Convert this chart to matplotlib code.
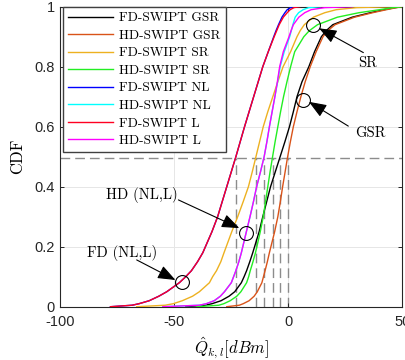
import matplotlib
matplotlib.use("Agg")
import matplotlib.pyplot as plt

plt.rcParams['mathtext.fontset'] = 'cm'

# CDF levels at which the x-values of each curve were read
cdf_levels = [0, 0.005, 0.01, 0.02, 0.035, 0.05, 0.08, 0.1, 0.12, 0.15, 0.18,
              0.25, 0.3, 0.35, 0.4, 0.45, 0.5, 0.55, 0.6, 0.65, 0.7, 0.75,
              0.8, 0.85, 0.9, 0.92, 0.94, 0.965, 0.98, 0.99, 0.997, 1.0]

fd_gsr = [-45, -36.5, -33.5, -29.5, -26, -23.5, -20.6, -19.4, -18.3, -16.9, -15.6,
          -12.8, -11.2, -9.5, -7.8, -5.7, -3.6, -1.5, 0.5, 2.2, 3.8, 6.0,
          9.0, 11.5, 14.5, 16.6, 19.5, 28, 36, 42, 47, 50]
hd_gsr = [-27, -21.5, -19.8, -17.2, -15.0, -13.6, -11.6, -10.9, -10.2, -9.2, -8.3,
          -6.0, -4.6, -3.5, -2.5, -1.4, -0.3, 0.9, 2.2, 3.8, 5.5, 7.4,
          9.6, 12.2, 15.2, 17.3, 20.5, 29, 37, 43, 47.5, 50]
fd_sr = [-66.5, -54, -50.5, -46.5, -42, -39, -34.6, -33.2, -31.5, -29.6, -28.2,
         -24.8, -22.2, -19.8, -17.5, -15.8, -14.2, -12.6, -11, -9, -6.8, -4.6,
         -2.3, 1.0, 3.8, 5.2, 7, 11, 16, 21, 30, 46]
hd_sr = [-40, -30.5, -28.3, -25.5, -22.6, -20.8, -18.3, -17.4, -16.7, -15.5, -14.4,
         -12.3, -11, -10, -9, -8, -6.9, -5.8, -4.6, -3.4, -2.1, -0.6,
         1.0, 2.8, 6.8, 9.2, 12.8, 21.5, 31, 40, 46, 50]
fd_nl = [-78, -68.5, -65.5, -61, -56.8, -53.3, -47.8, -45, -42.5, -39.8, -37.5,
         -33.5, -31, -29, -27, -25, -23, -21.1, -19.2, -17.2, -15.2, -13.2,
         -11.2, -8.8, -6.4, -5.4, -4.3, -2.8, -1.5, -0.5, 1, 3]
hd_nl = [-55, -39, -36, -32.5, -29.8, -28, -25, -24, -23, -21.7, -20.6,
         -18.4, -16.8, -15.3, -13.9, -12.2, -10.6, -9.4, -8.3, -7.1, -5.9, -4.7,
         -3.6, -1.8, 0.6, 1.3, 2.0, 3.0, 4.5, 6.5, 9, 14]
fd_l = [-78, -68.5, -65.5, -61, -56.8, -53.3, -47.8, -45, -42.5, -39.8, -37.5,
        -33.5, -31, -29, -27, -25, -23, -21.1, -19.2, -17.2, -15.2, -13.2,
        -11.2, -8.8, -6.2, -5.1, -4.0, -2.2, -0.5, 0.8, 2.5, 5]
hd_l = [-55, -39, -36, -32.5, -29.8, -28, -25, -24, -23, -21.7, -20.6,
        -18.4, -16.8, -15.3, -13.9, -12.2, -10.6, -9.4, -8.3, -7.1, -5.9, -4.8,
        -3.8, -2.2, 0.3, 1.2, 2.2, 4.6, 7.2, 10, 16, 28]

labels = ['FD-SWIPT GSR', 'HD-SWIPT GSR', 'FD-SWIPT SR', 'HD-SWIPT SR',
          'FD-SWIPT NL', 'HD-SWIPT NL', 'FD-SWIPT L', 'HD-SWIPT L']
colors = ['#000000', '#D95319', '#EDB120', '#22EE22',
          '#0000FF', '#00FFFF', '#FF0022', '#FF00FF']
series = [fd_gsr, hd_gsr, fd_sr, hd_sr, fd_nl, hd_nl, fd_l, hd_l]

median_level = 0.495
median_x = [-23, -14.2, -10.6, -6.9, -3.6, -0.3]

# annotations: (text, text_xy, arrow_tail, arrow_tip, circle_center)
annots = [
    ('FD (NL,L)', (-72.8, 0.178), (-66.5, 0.156), (-49.5, 0.089), (-46.8, 0.083)),
    ('HD (NL,L)', (-64.3, 0.372), (-48.2, 0.356), (-21.5, 0.262), (-18.7, 0.247)),
    ('GSR', (36.1, 0.578), (26.3, 0.602), (9.0, 0.683), (6.3, 0.689)),
    ('SR', (34.7, 0.811), (32.9, 0.847), (13.5, 0.928), (10.7, 0.94)),
]

fig = plt.figure(figsize=(4.06, 3.6), dpi=100)
ax = fig.add_axes([0.1485, 0.148, 0.8425, 0.8334])

grid_c = '#e6e6e6'
for xv in [-50, 0]:
    ax.axvline(xv, color=grid_c, lw=0.7, zorder=0)
for yv in [0.2, 0.4, 0.6, 0.8]:
    ax.axhline(yv, color=grid_c, lw=0.7, zorder=0)

dash_c = '#8c8c8c'
ax.plot([-100, 50], [median_level, median_level], color=dash_c, lw=1.0,
        dashes=(7, 3.6), zorder=1)
for mx in median_x:
    ax.plot([mx, mx], [0, median_level], color=dash_c, lw=1.0,
            dashes=(7, 3.6), zorder=1)

for xs, c, lab in zip(series, colors, labels):
    ax.plot(xs, cdf_levels, color=c, lw=1.0, label=lab, zorder=3)

for txt, txy, tail, tip, cen in annots:
    ax.plot([cen[0]], [cen[1]], marker='o', ms=10, mfc='none', mec='black',
            mew=0.8, zorder=5)
    ax.annotate('', xy=tip, xytext=tail,
                arrowprops=dict(arrowstyle='-|>,head_length=0.9,head_width=0.35',
                                color='black', lw=0.8, shrinkA=0, shrinkB=0,
                                mutation_scale=12), zorder=6)
    ax.text(txy[0], txy[1], txt, family='cmr10', fontsize=10.5,
            ha='center', va='center', zorder=6)

ax.set_xlim(-100, 50)
ax.set_ylim(0, 1)
ax.set_xticks([-100, -50, 0, 50])
ax.set_xticklabels(['-100', '-50', '0', '50'])
ax.set_yticks([0, 0.2, 0.4, 0.6, 0.8, 1])
ax.set_yticklabels(['0', '0.2', '0.4', '0.6', '0.8', '1'])
ax.tick_params(direction='in', length=3, width=0.7, top=True, right=True,
               labelsize=10.5, colors='#262626')
ax.tick_params(axis='x', pad=6)
ax.tick_params(axis='y', pad=4)
for lab in ax.get_xticklabels() + ax.get_yticklabels():
    lab.set_family('Liberation Sans')
for s in ax.spines.values():
    s.set_color('#262626')
    s.set_linewidth(0.8)

ax.set_xlabel(r'$\hat{Q}_{k,l}[dBm]$', fontsize=12, labelpad=5)
ax.set_ylabel('CDF', family='cmr10', fontsize=12, labelpad=7)

leg = ax.legend(loc='upper left', bbox_to_anchor=(0.007, 1.0), borderaxespad=0,
                prop={'family': 'cmr10', 'size': 9.6}, handlelength=3.4,
                handletextpad=0.43, labelspacing=0.39, borderpad=0.4,
                fancybox=False, framealpha=1, edgecolor='#404040')
leg.get_frame().set_linewidth(1.0)

fig.savefig('out.png', dpi=100)
